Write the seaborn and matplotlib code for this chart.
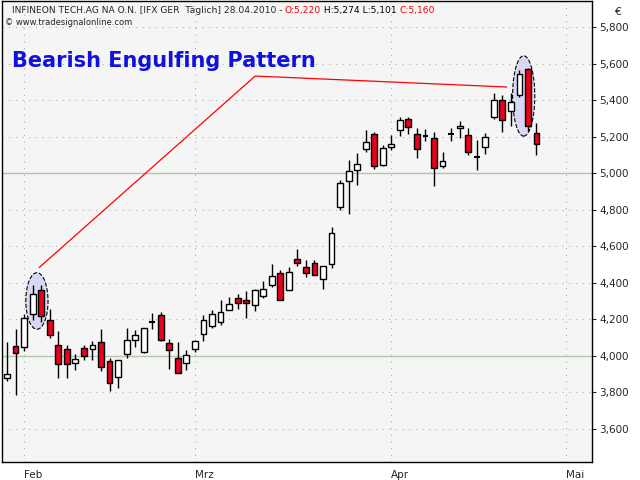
import matplotlib
matplotlib.use("Agg")
import matplotlib.pyplot as plt
import seaborn as sns
import numpy as np
import pandas as pd
from matplotlib.patches import Ellipse, Rectangle

sns.set_style("white")
plt.rcParams['font.family'] = ['DejaVu Sans']

opens  = [3880,4052,4050,4230,4361,4197,4061,4039,3962,4044,4039,4073,3970,3884,4011,4088,4021,4184,4225,4072,
          3990,3962,4039,4121,4161,4183,4252,4317,4306,4276,4325,4388,4454,4361,4530,4485,4507,4421,4505,4813,
          4955,5017,5135,5214,5044,5146,5236,5296,5217,5205,5192,5037,5214,5246,5208,5090,5141,5305,5399,5338,
          5427,5569,5220]
highs  = [4075,4144,4230,4385,4388,4257,4133,4061,4011,4061,4081,4144,3988,3975,4152,4139,4153,4234,4239,4093,
          4075,4029,4088,4221,4252,4303,4321,4337,4354,4367,4407,4500,4467,4485,4585,4525,4525,4494,4707,4962,
          5073,5110,5237,5223,5154,5208,5308,5308,5246,5241,5226,5117,5246,5287,5246,5181,5219,5438,5429,5441,
          5563,5578,5274]
lows   = [3862,3784,4026,4194,4184,4099,3879,3879,3924,3975,3975,3917,3808,3824,3988,4048,4015,4144,4079,3926,
          3908,3924,4021,4081,4153,4166,4248,4257,4208,4245,4316,4376,4306,4361,4490,4434,4443,4367,4478,4799,
          4777,4935,5114,5023,5041,5128,5205,5217,5081,5174,4928,5028,5174,5192,5101,5019,5104,5299,5223,5259,
          5419,5232,5101]
closes = [3902,4017,4208,4339,4219,4112,3957,3957,3981,4001,4061,3940,3848,3975,4088,4115,4153,4184,4084,4033,
          3908,4006,4079,4197,4226,4237,4281,4290,4290,4361,4367,4439,4306,4461,4509,4454,4443,4489,4674,4946,
          5013,5050,5172,5037,5137,5159,5290,5254,5132,5205,5028,5068,5214,5257,5114,5090,5196,5399,5290,5390,
          5542,5259,5160]
month_labels = ["Feb", "Mrz", "Apr", "Mai"]
month_pos = [2, 22, 45, 65.5]
trend_x = [3.76, 29.06, 58.5]
trend_y = [4483, 5532, 5472]

df = pd.DataFrame({"o": opens, "h": highs, "l": lows, "c": closes})
df["i"] = np.arange(len(df))

fig = plt.figure(figsize=(6.4, 4.8), dpi=100)
fig.patch.set_facecolor("white")
ax = fig.add_axes([0.003, 0.0375, 0.922, 0.96])
ax.set_facecolor("#f5f5f5")
ax.set_xlim(-0.6, 68.5)
ax.set_ylim(3418, 5942)

for y in range(3600, 5900, 200):
    ax.axhline(y, color="#a0b8a0", lw=0.8, ls=(0, (1, 5)), zorder=0)
for x in month_pos:
    ax.axvline(x, color="#a0b8a0", lw=0.8, ls=(0, (1, 5)), zorder=0)
ax.axhline(5000, color="#b0c8a8", lw=1, zorder=0)
ax.axhline(4000, color="#b0c8a8", lw=1, zorder=0)

ax.add_patch(Ellipse((3.5, 4300), 2.6, 310, facecolor="#d8d8f4", edgecolor="black", ls="--", lw=0.8, zorder=1))
ax.add_patch(Ellipse((60.5, 5423), 2.6, 440, facecolor="#d8d8f4", edgecolor="black", ls="--", lw=0.8, zorder=1))

ax.vlines(df["i"], df["l"], df["h"], color="black", lw=1, zorder=2)
w = 0.68
for _, r in df.iterrows():
    lo, hi = min(r.o, r.c), max(r.o, r.c)
    fc = "white" if r.c >= r.o else "#e8001c"
    if hi - lo < 8:
        ax.hlines((lo + hi) / 2, r.i - w / 2, r.i + w / 2, color="black", lw=1.5, zorder=3)
    else:
        ax.add_patch(Rectangle((r.i - w / 2, lo), w, hi - lo, facecolor=fc, edgecolor="black", lw=1, zorder=3))

sns.lineplot(x=trend_x, y=trend_y, ax=ax, color="red", lw=0.9, zorder=2)

ax.yaxis.tick_right()
ax.set_yticks(range(3600, 5900, 200))
ax.set_yticklabels([f"{v:,}" for v in range(3600, 5900, 200)], fontsize=7.5)
ax.set_xticks(month_pos)
ax.set_xticklabels(month_labels, fontsize=7.5, ha="left")
ax.tick_params(axis="x", length=4, pad=2)
ax.tick_params(axis="y", length=3, pad=2)
for s in ax.spines.values():
    s.set_color("black"); s.set_linewidth(1)

fig.text(0.965, 0.985, "€", fontsize=8, ha="center", va="top")
parts = [("O:5,220", "red"), (" H:5,274 L:5,101 ", "black"), ("C:5,160", "red")]
anchor = fig.text(0.018, 0.988, "INFINEON TECH.AG NA O.N. [IFX GER  Täglich] 28.04.2010 - ",
                  fontsize=6.6, va="top")
for txt, col in parts:
    anchor = ax.annotate(txt, xy=(1, 0), xycoords=anchor, va="bottom", fontsize=6.6, color=col,
                         annotation_clip=False)
fig.text(0.008, 0.963, "© www.tradesignalonline.com", fontsize=6, va="top")
fig.text(0.018, 0.872, "Bearish Engulfing Pattern", fontsize=15, color="#1010e0", fontweight="bold", va="center")

fig.savefig("out.png", dpi=100)
